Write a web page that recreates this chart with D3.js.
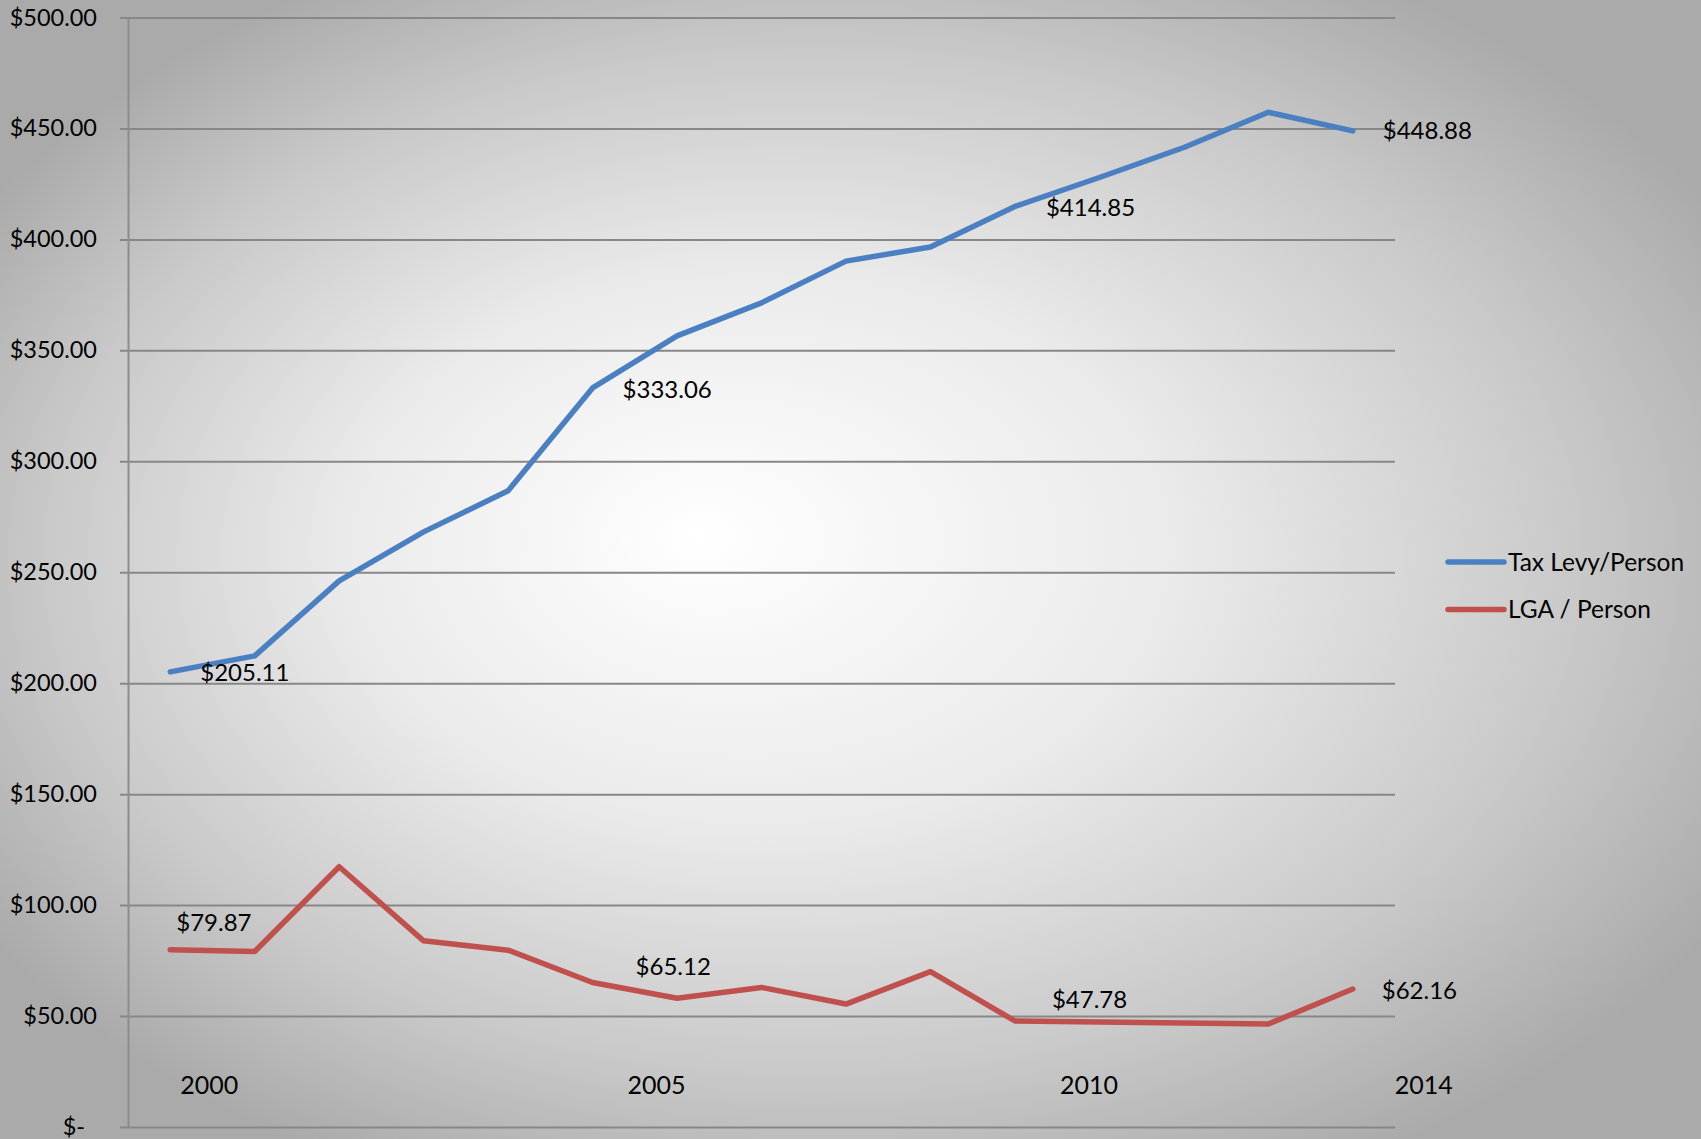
<!DOCTYPE html>
<html>
<head>
<meta charset="utf-8">
<script src="https://cdn.jsdelivr.net/npm/d3@7"></script>
<style>
  body { margin: 0; background: #fff; }
  text { font-family: Lato, "Open Sans", sans-serif; fill: #000; }
</style>
</head>
<body>
<div id="chart"></div>
<script>
let years = [2000, 2001, 2002, 2003, 2004, 2005, 2006, 2007, 2008, 2009, 2010, 2011, 2012, 2013, 2014];
let taxLevy = [205.11, 212.3, 246.1, 268.2, 286.7, 333.06, 356.5, 371.4, 390.2, 396.6, 414.85, 427.9, 441.4, 457.3, 448.88];
let lga = [79.87, 79.1, 117.3, 83.9, 79.7, 65.12, 58.0, 62.9, 55.4, 70.0, 47.78, 47.3, 46.9, 46.4, 62.16];
let seriesNames = ["Tax Levy/Person", "LGA / Person"];
let yTicks = [0, 50, 100, 150, 200, 250, 300, 350, 400, 450, 500];
let yearLabels = [2000, 2005, 2010, 2014];
let labelledYears = [2000, 2005, 2010, 2014];

let width = 1701, height = 1139;
let plot = {left: 128, right: 1395, top: 17.5, bottom: 1127};
let colors = ["#4a7fc1", "#c0504d"];
let fontSize = "24px";

// manual nudges of the text boxes, like in the original sheet
let yearLabelShift = {2000: 39, 2005: 64, 2010: 74, 2014: 71};
let valueLabelShift = [
  {2000: [30, 9], 2005: [30, 10], 2010: [31, 10], 2014: [30, 8]},
  {2000: [6, -19], 2005: [43, -7], 2010: [37, -13], 2014: [29, 10]}
];

let svg = d3.select("#chart").append("svg")
  .attr("width", width)
  .attr("height", height);

let grad = svg.append("defs").append("radialGradient")
  .attr("id", "bg")
  .attr("cx", 0.5).attr("cy", 0.5).attr("r", 0.6)
  .attr("fx", 0.41).attr("fy", 0.47);
grad.append("stop").attr("offset", 0).attr("stop-color", "#ffffff");
grad.append("stop").attr("offset", 0.4).attr("stop-color", "#ebebeb");
grad.append("stop").attr("offset", 0.75).attr("stop-color", "#c9c9c9");
grad.append("stop").attr("offset", 1).attr("stop-color", "#aaaaaa");

svg.append("rect")
  .attr("width", width)
  .attr("height", height)
  .attr("fill", "url(#bg)");

let x = d3.scalePoint()
  .domain(years)
  .range([plot.left, plot.right])
  .padding(0.5);

let y = d3.scaleLinear()
  .domain([0, 500])
  .range([plot.bottom, plot.top]);

// gridlines incl. the little outside tick
let grid = d3.axisLeft(y).tickValues(yTicks).tickSize(-(plot.right - plot.left + 8)).tickFormat("");
svg.append("g")
  .attr("transform", "translate(" + (plot.left - 8) + ",0)")
  .call(grid)
  .call(g => g.select(".domain").remove())
  .call(g => g.selectAll(".tick line").attr("stroke", "#878787").attr("stroke-width", 2));

let yAxis = d3.axisLeft(y).tickValues(yTicks).tickSize(0).tickPadding(31)
  .tickFormat(d => d === 0 ? "$-" : d3.format("$.2f")(d));
svg.append("g")
  .attr("transform", "translate(" + plot.left + ",0)")
  .call(yAxis)
  .call(g => g.select(".domain").attr("stroke", "#8c8c8c").attr("stroke-width", 2))
  .call(g => g.selectAll(".tick text")
    .style("font-size", "23.5px")
    .style("font-family", "Lato, sans-serif")
    .attr("fill", "#000")
    .attr("dx", d => d === 0 ? -12 : 0));

let line = d3.line()
  .x((d, i) => x(years[i]))
  .y(d => y(d));

let all = [taxLevy, lga];

svg.selectAll("path.series")
  .data(all)
  .enter().append("path")
  .attr("class", "series")
  .attr("d", line)
  .attr("fill", "none")
  .attr("stroke", (d, i) => colors[i])
  .attr("stroke-width", 5.5)
  .attr("stroke-linejoin", "round")
  .attr("stroke-linecap", "round");

all.forEach(function(values, s) {
  svg.selectAll("text.val" + s)
    .data(labelledYears)
    .enter().append("text")
    .attr("class", "val" + s)
    .attr("x", d => x(d) + valueLabelShift[s][d][0])
    .attr("y", d => y(values[years.indexOf(d)]) + valueLabelShift[s][d][1])
    .style("font-size", fontSize)
    .text(d => d3.format("$.2f")(values[years.indexOf(d)]));
});

svg.selectAll("text.year")
  .data(yearLabels)
  .enter().append("text")
  .attr("class", "year")
  .attr("x", d => x(d) + yearLabelShift[d])
  .attr("y", 1094)
  .attr("text-anchor", "middle")
  .style("font-size", "25px")
  .text(d => d);

let legend = svg.append("g")
  .attr("transform", "translate(1448,562)");

let item = legend.selectAll("g")
  .data(seriesNames)
  .enter().append("g")
  .attr("transform", (d, i) => "translate(0," + (i * 47.5) + ")");

item.append("line")
  .attr("x1", 0).attr("x2", 56)
  .attr("stroke", (d, i) => colors[i])
  .attr("stroke-width", 5.5)
  .attr("stroke-linecap", "round");

item.append("text")
  .attr("x", 60)
  .attr("dy", "0.35em")
  .style("font-size", "24.5px")
  .text(d => d);
</script>
</body>
</html>
